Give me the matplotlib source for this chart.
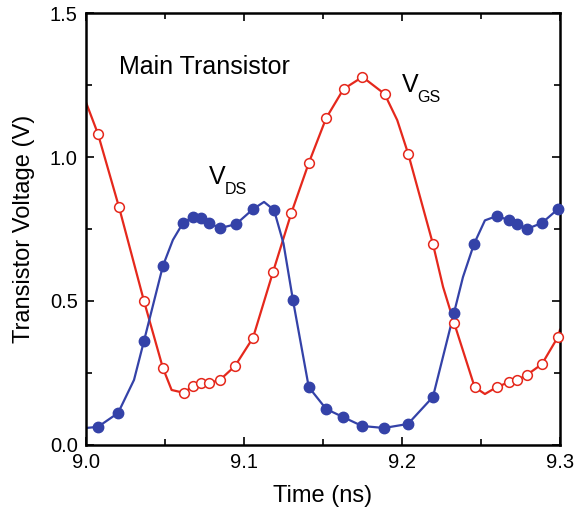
import matplotlib.pyplot as plt
from matplotlib.ticker import MultipleLocator

plt.rcParams['font.family'] = ['Liberation Sans', 'DejaVu Sans']

red = '#e5281c'
blue = '#3442a8'

# V_GS line and its open markers
vgs_line_t = [9.0, 9.0076, 9.0209, 9.0367, 9.0487, 9.0542, 9.062, 9.0677, 9.0728, 9.078,
              9.0848, 9.0943, 9.1057, 9.1184, 9.130, 9.141, 9.152, 9.163, 9.175, 9.189,
              9.197, 9.204, 9.2196, 9.226, 9.233, 9.246, 9.2525, 9.260, 9.268, 9.273,
              9.279, 9.2886, 9.2987, 9.3]
vgs_line_v = [1.19, 1.080, 0.826, 0.500, 0.267, 0.191, 0.181, 0.205, 0.215, 0.215,
              0.226, 0.274, 0.372, 0.601, 0.806, 0.979, 1.135, 1.236, 1.278, 1.219,
              1.128, 1.010, 0.698, 0.549, 0.424, 0.201, 0.177, 0.201, 0.219, 0.226,
              0.243, 0.281, 0.375, 0.40]
vgs_mark_t = [9.0076, 9.0209, 9.0367, 9.0487, 9.062, 9.0677, 9.0728, 9.078, 9.0848, 9.0943,
              9.1057, 9.1184, 9.130, 9.141, 9.152, 9.163, 9.175, 9.189, 9.204, 9.2196,
              9.233, 9.246, 9.260, 9.268, 9.273, 9.279, 9.2886, 9.2987]
vgs_mark_v = [1.080, 0.826, 0.500, 0.267, 0.181, 0.205, 0.215, 0.215, 0.226, 0.274,
              0.372, 0.601, 0.806, 0.979, 1.135, 1.236, 1.278, 1.219, 1.010, 0.698,
              0.424, 0.201, 0.201, 0.219, 0.226, 0.243, 0.281, 0.375]

# V_DS line and its filled markers
vds_line_t = [9.0, 9.0076, 9.0203, 9.0304, 9.0367, 9.0487, 9.055, 9.0614, 9.0677, 9.0728,
              9.0778, 9.0848, 9.095, 9.1057, 9.1127, 9.119, 9.125, 9.131, 9.141, 9.152,
              9.1627, 9.1747, 9.1886, 9.2038, 9.2196, 9.2329, 9.2386, 9.2456, 9.2525, 9.260,
              9.2677, 9.2728, 9.279, 9.2886, 9.2987, 9.3]
vds_line_v = [0.059, 0.063, 0.111, 0.226, 0.361, 0.622, 0.712, 0.771, 0.792, 0.788,
              0.771, 0.753, 0.767, 0.819, 0.844, 0.816, 0.70, 0.503, 0.201, 0.125,
              0.097, 0.066, 0.059, 0.073, 0.167, 0.458, 0.583, 0.698, 0.78, 0.795,
              0.781, 0.767, 0.750, 0.771, 0.819, 0.835]
vds_mark_t = [9.0076, 9.0203, 9.0367, 9.0487, 9.0614, 9.0677, 9.0728, 9.0778, 9.0848, 9.095,
              9.1057, 9.119, 9.131, 9.141, 9.152, 9.1627, 9.1747, 9.1886, 9.2038, 9.2196,
              9.2329, 9.2456, 9.260, 9.2677, 9.2728, 9.279, 9.2886, 9.2987]
vds_mark_v = [0.063, 0.111, 0.361, 0.622, 0.771, 0.792, 0.788, 0.771, 0.753, 0.767,
              0.819, 0.816, 0.503, 0.201, 0.125, 0.097, 0.066, 0.059, 0.073, 0.167,
              0.458, 0.698, 0.795, 0.781, 0.767, 0.750, 0.771, 0.819]

fig = plt.figure(figsize=(5.81, 5.13), dpi=100)
ax = fig.add_axes([0.148, 0.1326, 0.8158, 0.842])

ax.plot(vgs_line_t, vgs_line_v, color=red, lw=1.6, zorder=2)
ax.plot(vgs_mark_t, vgs_mark_v, 'o', ms=7, mfc='white', mec=red, mew=1.1, zorder=3, clip_on=False)
ax.plot(vds_line_t, vds_line_v, color=blue, lw=1.6, zorder=2)
ax.plot(vds_mark_t, vds_mark_v, 'o', ms=7.5, mfc=blue, mec=blue, zorder=3, clip_on=False)

ax.set_xlim(9.0, 9.3)
ax.set_ylim(0, 1.5)
ax.xaxis.set_major_locator(MultipleLocator(0.1))
ax.xaxis.set_minor_locator(MultipleLocator(0.05))
ax.yaxis.set_major_locator(MultipleLocator(0.5))
ax.yaxis.set_minor_locator(MultipleLocator(0.25))
ax.xaxis.set_major_formatter(plt.FormatStrFormatter('%.1f'))
ax.yaxis.set_major_formatter(plt.FormatStrFormatter('%.1f'))
ax.tick_params(which='both', direction='in', top=True, right=True, width=1.2,
               labelsize=14.5, pad=6)
ax.tick_params(which='major', length=5.5)
ax.tick_params(which='minor', length=4)
for s in ax.spines.values():
    s.set_linewidth(1.8)

ax.set_xlabel('Time (ns)', fontsize=17, labelpad=9)
ax.set_ylabel('Transistor Voltage (V)', fontsize=17, labelpad=11)

ax.text(9.021, 1.29, 'Main Transistor', fontsize=18)

# V labels with a lowered subscript
ax.text(9.078, 0.905, 'V', fontsize=18)
ax.annotate('DS', (9.078, 0.905), xytext=(11, -7), textcoords='offset points', fontsize=11.5)
ax.text(9.2, 1.225, 'V', fontsize=18)
ax.annotate('GS', (9.2, 1.225), xytext=(11, -7), textcoords='offset points', fontsize=11.5)

plt.savefig('out.png', dpi=100)
